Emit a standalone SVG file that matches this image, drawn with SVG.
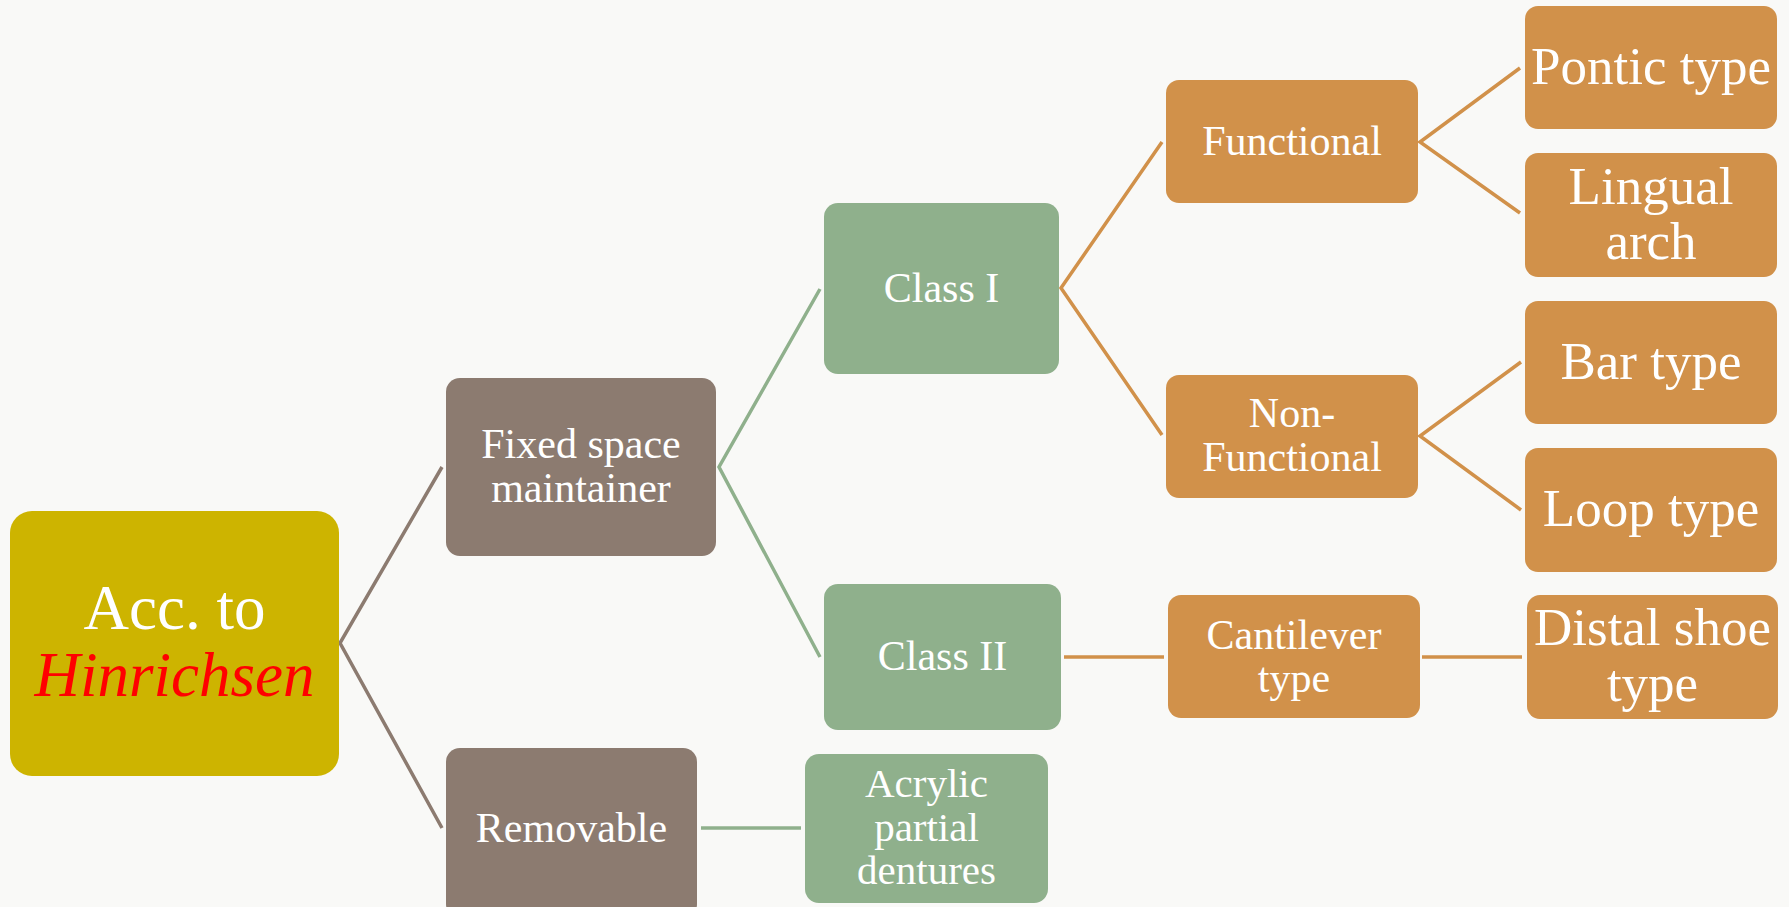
<svg xmlns="http://www.w3.org/2000/svg" width="1789" height="907" viewBox="0 0 1789 907">
<style>
.t{font-family:"Liberation Serif","Times New Roman",serif;fill:#FFFFFF;text-anchor:middle}
.s42{font-size:42px}
.s53{font-size:53px}
.brown{fill:#8C7B70}
.green{fill:#8FB08C}
.orange{fill:#D1914A}
.c{fill:none;stroke-width:3.5;stroke-linecap:butt;stroke-linejoin:miter}
</style>
<rect x="0" y="0" width="1789" height="907" fill="#F9F9F7"/>
<g id="connectors">
<polyline class="c" stroke="#8C7B70" points="442,467 340,643 442,828"/>
<polyline class="c" stroke="#8FB08C" points="820,289 719,467 820,657"/>
<line class="c" stroke="#8FB08C" x1="701" y1="828" x2="801" y2="828"/>
<polyline class="c" stroke="#D1914A" points="1162,142 1061,288 1162,435"/>
<line class="c" stroke="#D1914A" x1="1064" y1="657" x2="1164" y2="657"/>
<polyline class="c" stroke="#D1914A" points="1520,68 1420,142 1520,213"/>
<polyline class="c" stroke="#D1914A" points="1521,362 1420,436 1521,510"/>
<line class="c" stroke="#D1914A" x1="1422" y1="657" x2="1522" y2="657"/>
</g>
<g id="root">
<rect x="10" y="511" width="329" height="265" rx="22" fill="#CDB400"/>
<text class="t" x="174.5" y="629" font-size="63">Acc. to</text>
<text class="t" x="174.5" y="696" font-size="63" font-style="italic" fill="#FF0000" style="fill:#FF0000">Hinrichsen</text>
</g>
<g id="fixed">
<rect class="brown" x="446" y="378" width="270" height="178" rx="14"/>
<text class="t s42" x="581" y="458">Fixed space</text>
<text class="t s42" x="581" y="502">maintainer</text>
</g>
<g id="removable">
<rect class="brown" x="446" y="748" width="251" height="170" rx="14"/>
<text class="t s42" x="571.5" y="842">Removable</text>
</g>
<g id="class1">
<rect class="green" x="824" y="203" width="235" height="171" rx="14"/>
<text class="t s42" x="941.5" y="302">Class I</text>
</g>
<g id="class2">
<rect class="green" x="824" y="584" width="237" height="146" rx="14"/>
<text class="t s42" x="942.5" y="670">Class II</text>
</g>
<g id="acrylic">
<rect class="green" x="805" y="754" width="243" height="149" rx="14"/>
<text class="t" font-size="41" x="926.5" y="797">Acrylic</text>
<text class="t" font-size="41" x="926.5" y="841">partial</text>
<text class="t" font-size="41" x="926.5" y="884">dentures</text>
</g>
<g id="functional">
<rect class="orange" x="1166" y="80" width="252" height="123" rx="13"/>
<text class="t s42" x="1292" y="155">Functional</text>
</g>
<g id="nonfunctional">
<rect class="orange" x="1166" y="375" width="252" height="123" rx="13"/>
<text class="t s42" x="1292" y="427">Non-</text>
<text class="t s42" x="1292" y="471">Functional</text>
</g>
<g id="cantilever">
<rect class="orange" x="1168" y="595" width="252" height="123" rx="13"/>
<text class="t s42" x="1294" y="649">Cantilever</text>
<text class="t s42" x="1294" y="692">type</text>
</g>
<g id="pontic">
<rect class="orange" x="1525" y="6" width="252" height="123" rx="13"/>
<text class="t s53" x="1651" y="84">Pontic type</text>
</g>
<g id="lingual">
<rect class="orange" x="1525" y="153" width="252" height="124" rx="13"/>
<text class="t s53" x="1651" y="204">Lingual</text>
<text class="t s53" x="1651" y="259">arch</text>
</g>
<g id="bar">
<rect class="orange" x="1525" y="301" width="252" height="123" rx="13"/>
<text class="t s53" x="1651" y="379">Bar type</text>
</g>
<g id="loop">
<rect class="orange" x="1525" y="448" width="252" height="124" rx="13"/>
<text class="t s53" x="1651" y="526">Loop type</text>
</g>
<g id="distal">
<rect class="orange" x="1527" y="595" width="251" height="124" rx="13"/>
<text class="t s53" x="1652.5" y="645">Distal shoe</text>
<text class="t s53" x="1652.5" y="701">type</text>
</g>
</svg>
